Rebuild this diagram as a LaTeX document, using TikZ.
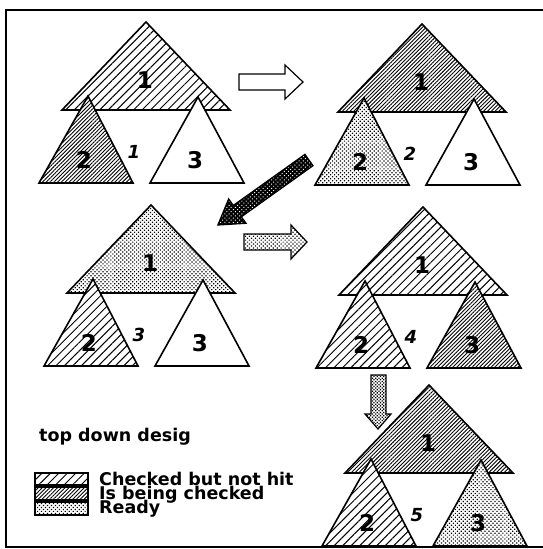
\documentclass[tikz,border=0pt]{standalone}
\usepackage{fontspec}
\setmainfont{DejaVu Sans}
\usetikzlibrary{patterns.meta}
\tikzset{
  trishape/.style={draw=black,line width=1.6pt,line join=miter,
                   preaction={fill=white}},
  nohit/.style={trishape,pattern={Lines[angle=45,distance=6pt,line width=1pt]}},
  checking/.style={trishape,pattern={Lines[angle=45,distance=2.7pt,line width=0.9pt]}},
  ready/.style={trishape,pattern={Dots[angle=45,distance=2.8pt,radius=0.85pt]}},
  blank/.style={trishape,fill=white},
  treenum/.style={font=\fontsize{23}{23}\selectfont\bfseries,inner sep=0pt},
  stepnum/.style={font=\fontsize{18}{18}\selectfont\bfseries\itshape,inner sep=0pt},
  legtext/.style={anchor=base west,font=\fontsize{17.5}{17.5}\selectfont\bfseries,
                  inner sep=0pt},
  blockarrow/.style={draw=black,line width=1.2pt,line join=miter},
}
\newcommand{\treepanel}[6]{%
  \begin{scope}[shift={(#1,#2)}]
    \draw[#3] (0,0) -- (84,88) -- (-84,88) -- cycle;
    \draw[#4] (-58,74) -- (-13,161) -- (-107,161) -- cycle;
    \draw[#5] (52,75) -- (98,161) -- (4,161) -- cycle;
    \node[treenum] (one-#6) at (-1,58) {1};
    \node[treenum] (two-#6) at (-62,138) {2};
    \node[treenum] (three-#6) at (49,138) {3};
    \node[stepnum] (step-#6) at (-12,130) {#6};
  \end{scope}}

\begin{document}
\begin{tikzpicture}[x=1pt,y=-1pt]
  \useasboundingbox (0,0) rectangle (543,549);
  \draw[line width=2.4pt] (543,10) -- (6,10) -- (6,547) -- (543,547);

  \treepanel{146}{22}{nohit}{checking}{blank}{1}
  \treepanel{422}{24}{checking}{ready}{blank}{2}
  \treepanel{151}{205}{ready}{nohit}{blank}{3}
  \treepanel{423}{207}{nohit}{nohit}{checking}{4}
  \treepanel{429}{385}{checking}{nohit}{ready}{5}

  % arrows between the stages
  \draw[blockarrow,fill=white] (239,74) -- (285,74) -- (285,65) -- (303,82)
    -- (285,99) -- (285,90) -- (239,90) -- cycle;
  \begin{scope}[shift={(309,160)},rotate=215.5]
    \draw[blockarrow,preaction={fill=black},
          pattern={Dots[angle=45,distance=3pt,radius=0.7pt]},pattern color=white]
      (0,-7) -- (88,-7) -- (88,-15) -- (112,0) -- (88,15) -- (88,7) -- (0,7) -- cycle;
  \end{scope}
  \draw[blockarrow,preaction={fill=white},
        pattern={Dots[angle=45,distance=2.8pt,radius=0.85pt]}]
    (244,234) -- (291,234) -- (291,225) -- (307,242) -- (291,259) -- (291,250)
    -- (244,250) -- cycle;
  \draw[blockarrow,preaction={fill=white},
        pattern={Dots[angle=45,distance=2.3pt,radius=0.9pt]}]
    (371,375) -- (371,414) -- (365,414) -- (378,429) -- (391,414) -- (386,414)
    -- (386,375) -- cycle;

  % legend
  \node[legtext] (title) at (39,441) {top down desig};
  \draw[nohit,line width=1.2pt] (35,473) rectangle (88,485);
  \draw[checking,line width=1.2pt] (35,487) rectangle (88,500);
  \draw[ready,line width=1.2pt] (35,502) rectangle (88,515);
  \node[legtext] (leg-nohit) at (99,485) {Checked but not hit};
  \node[legtext] (leg-checking) at (99,499) {Is being checked};
  \node[legtext] (leg-ready) at (99,513) {Ready};
\end{tikzpicture}
\end{document}
